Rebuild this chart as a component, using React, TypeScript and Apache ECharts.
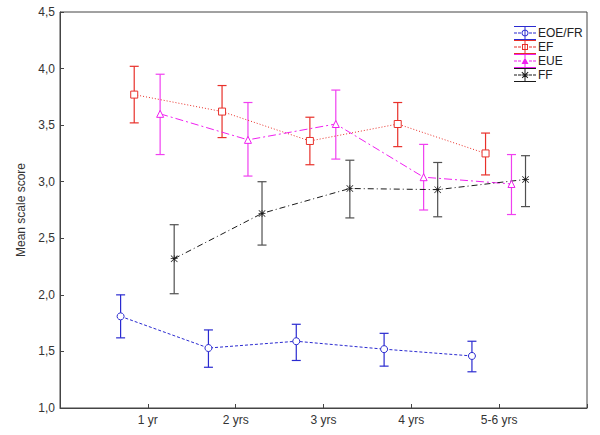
import React, { useEffect, useRef } from "react";
import * as echarts from "echarts";

const categories = ["1 yr", "2 yrs", "3 yrs", "4 yrs", "5-6 yrs"];
const seriesNames = ["EOE/FR", "EF", "EUE", "FF"];

const eoeMean = [1.81, 1.53, 1.59, 1.52, 1.46];
const eoeLow = [1.62, 1.36, 1.42, 1.37, 1.32];
const eoeHigh = [2.0, 1.69, 1.74, 1.66, 1.59];

const efMean = [3.77, 3.62, 3.36, 3.51, 3.25];
const efLow = [3.52, 3.39, 3.15, 3.31, 3.06];
const efHigh = [4.02, 3.85, 3.57, 3.7, 3.43];

const eueMean = [3.6, 3.37, 3.51, 3.04, 2.98];
const eueLow = [3.24, 3.05, 3.2, 2.75, 2.71];
const eueHigh = [3.95, 3.7, 3.81, 3.33, 3.24];

const ffMean = [2.32, 2.72, 2.94, 2.93, 3.02];
const ffLow = [2.01, 2.44, 2.68, 2.69, 2.78];
const ffHigh = [2.62, 3.0, 3.19, 3.17, 3.23];

const yTicks = ["1,0", "1,5", "2,0", "2,5", "3,0", "3,5", "4,0", "4,5"];

// horizontal dodge of each group around its category position
const offsets = [-0.31, -0.155, 0.14, 0.3];

const lineColors = ["#2a2ad0", "#e8302a", "#f020f0", "#1a1a1a"];
const barColors = ["#2a2ad0", "#e8302a", "#f040f0", "#505050"];

const asteriskPath =
  "path://M0 4.5H10V5.5H0Z M4.5 0H5.5V10H4.5Z M0.7 0L10 9.3L9.3 10L0 0.7Z M9.3 0L10 0.7L0.7 10L0 9.3Z";

function legendIcon(marker: string) {
  const base =
    "path://M0 0H22V1H0Z M0 13H22V14H0Z M10.5 1H11.5V13H10.5Z M0 6.5H3V7.5H0Z M4 6.5H7V7.5H4Z M15 6.5H18V7.5H15Z M19 6.5H22V7.5H19Z ";
  return base + marker;
}

const legendMarkers = [
  "M11 3.5A3.5 3.5 0 1 1 10.99 3.5Z M11 4.5A2.5 2.5 0 1 0 11.01 4.5Z",
  "M8 4H14V10H8Z M9 5V9H13V5Z",
  "M11 3.5L14.5 10H7.5Z",
  "M7.5 6.5H14.5V7.5H7.5Z M8.2 3.8L14.2 9.5L13.5 10.2L7.5 4.5Z M13.8 3.8L14.5 4.5L8.5 10.2L7.8 9.5Z",
];

const symbols = ["circle", "rect", "triangle", asteriskPath];
const symbolSizes = [7, 7, 7, 7];
const dashes: any[] = [[3, 2], [1, 2], [8, 3, 2, 3], [6, 3, 1, 3]];

const means = [eoeMean, efMean, eueMean, ffMean];
const lows = [eoeLow, efLow, eueLow, ffLow];
const highs = [eoeHigh, efHigh, eueHigh, ffHigh];

const FONT = "Liberation Sans, Arial, sans-serif";

export default function App() {
  const ref = useRef<HTMLDivElement>(null);

  useEffect(() => {
    document.body.style.margin = "0";
    const chart = echarts.init(ref.current!, null, { renderer: "svg" });

    const series: any[] = [];
    seriesNames.forEach((name, si) => {
      const errColor = barColors[si];
      const isStar = si === 3;
      series.push({
        name,
        type: "custom",
        z: 2,
        itemStyle: { color: lineColors[si] },
        data: categories.map((_, i) => [i + 1 + offsets[si], lows[si][i], highs[si][i]]),
        encode: { x: 0, y: [1, 2] },
        renderItem: (params: any, api: any) => {
          const x = api.value(0);
          const p1 = api.coord([x, api.value(2)]);
          const p2 = api.coord([x, api.value(1)]);
          const w = 4.5;
          const st = { stroke: errColor, lineWidth: 1.2, fill: "none" };
          return {
            type: "group",
            children: [
              { type: "line", shape: { x1: p1[0], y1: p1[1], x2: p2[0], y2: p2[1] }, style: st },
              { type: "line", shape: { x1: p1[0] - w, y1: p1[1], x2: p1[0] + w, y2: p1[1] }, style: st },
              { type: "line", shape: { x1: p2[0] - w, y1: p2[1], x2: p2[0] + w, y2: p2[1] }, style: st },
            ],
          };
        },
      });
      series.push({
        name,
        type: "line",
        z: 3,
        data: categories.map((_, i) => [i + 1 + offsets[si], means[si][i]]),
        symbol: symbols[si],
        symbolSize: symbolSizes[si],
        showSymbol: true,
        lineStyle: { color: lineColors[si], width: 1, type: dashes[si] },
        itemStyle: isStar
          ? { color: lineColors[si], borderWidth: 0 }
          : { color: "#ffffff", borderColor: lineColors[si], borderWidth: 1 },
      });
    });

    chart.setOption({
      animation: false,
      backgroundColor: "#ffffff",
      grid: {
        left: 60,
        top: 12,
        right: 13,
        bottom: 27,
        show: true,
        borderColor: "#444",
        borderWidth: 1,
      },
      legend: {
        orient: "vertical",
        left: 509,
        top: 21,
        itemGap: 0,
        itemWidth: 22,
        itemHeight: 14,
        selectedMode: false,
        itemStyle: { borderWidth: 0 },
        textStyle: { fontFamily: FONT, fontSize: 12, color: "#222", padding: [0, 0, 0, -3] },
        data: seriesNames.map((n, i) => ({
          name: n,
          icon: legendIcon(legendMarkers[i]),
          itemStyle: { color: lineColors[i], borderWidth: 0 },
        })),
      },
      xAxis: {
        type: "value",
        min: 0,
        max: 6,
        interval: 1,
        splitLine: { show: false },
        axisLine: { show: true, lineStyle: { color: "#444" } },
        axisTick: { show: true, inside: true, length: 4, lineStyle: { color: "#444" } },
        axisLabel: {
          margin: 6,
          fontFamily: FONT,
          fontSize: 12,
          color: "#333",
          formatter: (v: number) => (v >= 1 && v <= categories.length ? categories[v - 1] : ""),
        },
      },
      yAxis: {
        type: "value",
        min: 1,
        max: 4.5,
        interval: 0.5,
        name: "Mean scale score",
        nameLocation: "middle",
        nameGap: 31,
        nameTextStyle: { fontFamily: FONT, fontSize: 12, color: "#333" },
        splitLine: { show: false },
        axisLine: { show: true, lineStyle: { color: "#444" } },
        axisTick: { show: true, inside: true, length: 4, lineStyle: { color: "#444" } },
        axisLabel: {
          margin: 5,
          fontFamily: FONT,
          fontSize: 12,
          color: "#333",
          formatter: (v: number) => yTicks[Math.round((v - 1) / 0.5)] ?? "",
        },
      },
      series,
    });

    return () => chart.dispose();
  }, []);

  return <div ref={ref} style={{ width: 600, height: 435 }} />;
}
